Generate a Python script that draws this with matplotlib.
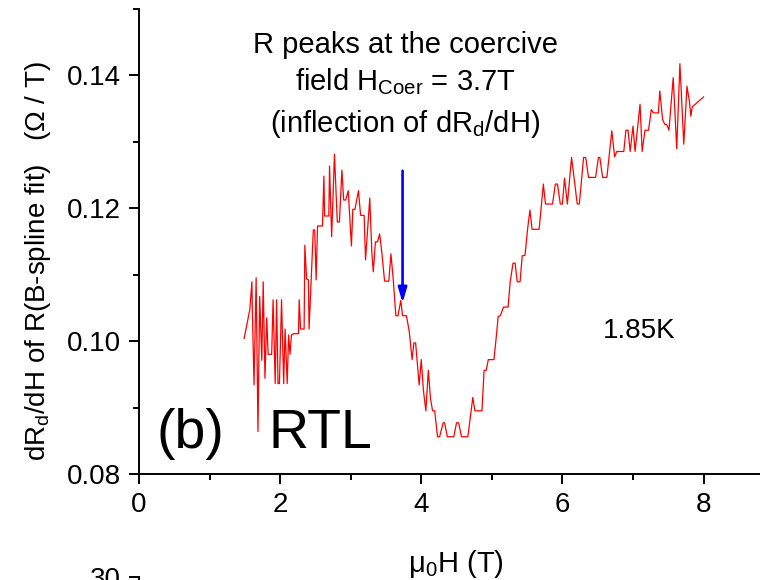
import matplotlib
matplotlib.use("Agg")
import matplotlib.pyplot as plt
from matplotlib.ticker import MultipleLocator

# field (T) and dR/dH values
field = [1.49, 1.57, 1.60, 1.605, 1.63, 1.66, 1.686, 1.71, 1.74, 1.76, 1.785, 1.81,
         1.83, 1.88, 1.90, 1.93, 1.95, 1.97, 1.99, 2.02, 2.05, 2.07, 2.10, 2.12,
         2.14, 2.16, 2.19, 2.26, 2.27, 2.29, 2.34, 2.35, 2.375, 2.40, 2.41, 2.44,
         2.47, 2.49, 2.51, 2.53, 2.60, 2.62, 2.63, 2.69, 2.70, 2.73, 2.77, 2.81,
         2.84, 2.875, 2.90, 2.93, 2.965, 3.01, 3.03, 3.06, 3.11, 3.14, 3.19, 3.21,
         3.27, 3.30, 3.32, 3.35, 3.38, 3.41, 3.44, 3.48, 3.54, 3.57, 3.60, 3.64,
         3.67, 3.71, 3.735, 3.79, 3.83, 3.87, 3.895, 3.92, 3.97, 4.00, 4.03, 4.065,
         4.10, 4.13, 4.16, 4.19, 4.23, 4.26, 4.31, 4.33, 4.37, 4.46, 4.50, 4.53,
         4.57, 4.66, 4.73, 4.76, 4.86, 4.89, 4.92, 4.95, 5.03, 5.07, 5.09, 5.12,
         5.165, 5.23, 5.26, 5.30, 5.33, 5.36, 5.40, 5.43, 5.47, 5.505, 5.54, 5.57,
         5.67, 5.73, 5.76, 5.86, 5.90, 5.93, 5.97, 6.00, 6.03, 6.07, 6.13, 6.21,
         6.24, 6.30, 6.33, 6.37, 6.47, 6.51, 6.53, 6.57, 6.63, 6.70, 6.74, 6.77,
         6.87, 6.90, 6.93, 6.96, 7.00, 7.03, 7.10, 7.13, 7.17, 7.22, 7.26, 7.29,
         7.36, 7.38, 7.42, 7.45, 7.48, 7.51, 7.57, 7.62, 7.665, 7.72, 7.765, 7.80,
         7.82, 7.84, 8.00]
dRdH = [0.1004, 0.1047, 0.1089, 0.1052, 0.0934, 0.1095, 0.0864, 0.1067, 0.0971, 0.1089, 0.0944, 0.1035,
        0.0980, 0.0980, 0.1062, 0.0936, 0.1062, 0.0936, 0.0936, 0.1062, 0.0936, 0.1018, 0.0936, 0.1009,
        0.0980, 0.1009, 0.1011, 0.1011, 0.1062, 0.1018, 0.1018, 0.1144, 0.1093, 0.1092, 0.1018, 0.1092,
        0.1167, 0.1167, 0.1092, 0.1173, 0.1173, 0.1248, 0.1188, 0.1188, 0.1263, 0.1157, 0.1281, 0.1179,
        0.1179, 0.1257, 0.1212, 0.1212, 0.1226, 0.1143, 0.1198, 0.1198, 0.1226, 0.1189, 0.1189, 0.1122,
        0.1215, 0.1132, 0.1104, 0.1149, 0.1149, 0.1161, 0.1134, 0.1090, 0.1090, 0.1131, 0.1096, 0.1038,
        0.1038, 0.1061, 0.1038, 0.1038, 0.1014, 0.0972, 0.0997, 0.0997, 0.0934, 0.0972, 0.0926, 0.0895,
        0.0956, 0.0914, 0.0895, 0.0895, 0.0856, 0.0856, 0.0877, 0.0877, 0.0856, 0.0856, 0.0877, 0.0877,
        0.0856, 0.0856, 0.0915, 0.0895, 0.0895, 0.0956, 0.0956, 0.0972, 0.0972, 0.1014, 0.1037, 0.1038,
        0.1051, 0.1051, 0.1089, 0.1117, 0.1117, 0.1089, 0.1089, 0.1128, 0.1129, 0.1167, 0.1197, 0.1168,
        0.1168, 0.1236, 0.1206, 0.1206, 0.1236, 0.1236, 0.1206, 0.1206, 0.1245, 0.1206, 0.1276, 0.1206,
        0.1206, 0.1276, 0.1276, 0.1246, 0.1246, 0.1276, 0.1276, 0.1246, 0.1246, 0.1316, 0.1277, 0.1285,
        0.1285, 0.1317, 0.1317, 0.1285, 0.1323, 0.1285, 0.1356, 0.1285, 0.1317, 0.1317, 0.1348, 0.1343,
        0.1343, 0.1376, 0.1333, 0.1326, 0.1325, 0.1317, 0.1396, 0.1289, 0.1417, 0.1296, 0.1383, 0.1360,
        0.1338, 0.1352, 0.1367]

h_coer = 3.735
arrow_top = 0.1256
arrow_tip = 0.1057

plt.rcParams['font.family'] = ['Liberation Sans', 'DejaVu Sans']
plt.rcParams['mathtext.fontset'] = 'custom'
plt.rcParams['mathtext.rm'] = 'Liberation Sans'
plt.rcParams['mathtext.default'] = 'regular'

fig = plt.figure(figsize=(7.6, 5.8), dpi=100)
ax = fig.add_axes([139/760, 106/580, 621/760, 465.5/580])

ax.plot(field, dRdH, color='red', lw=0.9)
ax.annotate('', xy=(h_coer, arrow_tip), xytext=(h_coer, arrow_top),
            arrowprops=dict(arrowstyle='-|>,head_length=0.45,head_width=0.13', color='blue',
                            lw=1.9, mutation_scale=20, shrinkA=0, shrinkB=0))

ax.set_xlim(0, 8.8)
ax.set_ylim(0.08, 0.15)
ax.xaxis.set_major_locator(MultipleLocator(2))
ax.xaxis.set_minor_locator(MultipleLocator(1))
ax.yaxis.set_major_locator(MultipleLocator(0.02))
ax.yaxis.set_minor_locator(MultipleLocator(0.01))
ax.tick_params(which='both', direction='out', width=1.4, labelsize=20, top=False, right=False)
ax.tick_params(which='major', length=7, pad=6)
ax.tick_params(which='minor', length=4)
ax.yaxis.set_major_formatter(plt.FuncFormatter(lambda v, p: '%.2f' % v))
for s in ['top', 'right']:
    ax.spines[s].set_visible(False)
for s in ['left', 'bottom']:
    ax.spines[s].set_linewidth(1.4)

ax.text(3.77, 0.1433, 'R peaks at the coercive', ha='center', va='baseline', fontsize=21)
ax.text(3.77, 0.1377, r'field H$_{Coer}$ = 3.7T', ha='center', va='baseline', fontsize=21)
ax.text(3.77, 0.1314, r'(inflection of dR$_{d}$/dH)', ha='center', va='baseline', fontsize=21)
ax.text(6.57, 0.1005, '1.85K', ha='left', va='baseline', fontsize=20)
ax.text(0.25, 0.0839, '(b)', ha='left', va='baseline', fontsize=40)
ax.text(1.84, 0.0839, 'RTL', ha='left', va='baseline', fontsize=40)

fig.text(456/760, 1 - 572/580, r'$\mu_0$H (T)', ha='center', va='baseline', fontsize=21)
fig.text(38/760, 1 - 261/580, r'dR$_{d}$/dH of R(B-spline fit)   ($\Omega$ / T)',
         rotation=90, ha='center', va='center', fontsize=20)

# top of the panel below, cut off by the frame
ax2 = fig.add_axes([139/760, -0.5, 621/760, 0.5 + 3/580])
ax2.set_ylim(0, 30)
ax2.set_yticks([30])
ax2.set_xticks([])
ax2.tick_params(axis='y', direction='out', width=1.4, length=7, pad=6, labelsize=20)
for s in ['top', 'right', 'bottom']:
    ax2.spines[s].set_visible(False)
ax2.spines['left'].set_linewidth(1.4)

plt.savefig('out.png', dpi=100)
